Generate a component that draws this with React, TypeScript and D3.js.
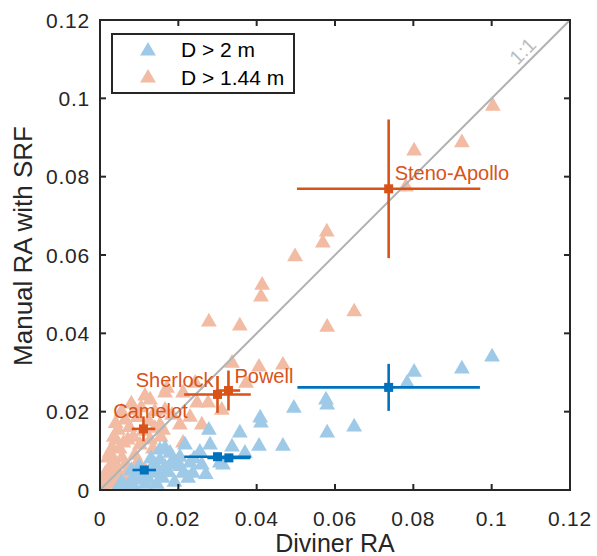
import React from "react";
import * as d3 from "d3";

// Scatter of per-crater rock abundance: D > 1.44 m (orange) and D > 2 m (blue)
const largeRocksX = [0.1001, 0.0924, 0.0802, 0.0784, 0.0577, 0.058, 0.0495, 0.0409, 0.0411, 0.058, 0.0649, 0.0357, 0.0278, 0.0406, 0.0467, 0.0337, 0.037, 0.0306, 0.026, 0.023, 0.0212, 0.0255, 0.0179, 0.0153, 0.0166, 0.0146, 0.0191, 0.0314, 0.0237, 0.0166, 0.0153, 0.0128, 0.0102, 0.0087, 0.0204, 0.0046, 0.0064, 0.0115, 0.0217, 0.0281, 0.0055, 0.0075, 0.009, 0.011, 0.0125, 0.014, 0.016, 0.0175, 0.019, 0.0205, 0.0225, 0.01, 0.013, 0.0185, 0.024, 0.027, 0.008, 0.0145, 0.0115];
const largeRocksY = [0.034, 0.0309, 0.0301, 0.0273, 0.023, 0.0217, 0.0209, 0.0184, 0.0171, 0.0146, 0.0161, 0.0146, 0.0153, 0.0112, 0.0112, 0.011, 0.0094, 0.0069, 0.0064, 0.0069, 0.0043, 0.0097, 0.0094, 0.0102, 0.0059, 0.0043, 0.0064, 0.0064, 0.0043, 0.0107, 0.0077, 0.0051, 0.0026, 0.0008, 0.0084, 0.0005, 0.001, 0.0031, 0.0115, 0.0115, 0.002, 0.0015, 0.0035, 0.0045, 0.0025, 0.0065, 0.003, 0.0045, 0.002, 0.006, 0.003, 0.006, 0.008, 0.0075, 0.008, 0.004, 0.005, 0.0015, 0.0015];

const smallRocksX = [0.1003, 0.0924, 0.0802, 0.0781, 0.0579, 0.0569, 0.0498, 0.0414, 0.0411, 0.0278, 0.0357, 0.058, 0.0649, 0.0337, 0.0406, 0.0467, 0.0373, 0.0276, 0.0311, 0.026, 0.0212, 0.023, 0.0166, 0.0212, 0.0248, 0.014, 0.0161, 0.0166, 0.0171, 0.0243, 0.0128, 0.0089, 0.0064, 0.0046, 0.0071, 0.0102, 0.0031, 0.002, 0.0056, 0.0089, 0.0031, 0.0013, 0.0046, 0.0071, 0.0015, 0.0033, 0.0008, 0.0051, 0.0128, 0.0153, 0.0184, 0.0204, 0.0077, 0.0097, 0.0041, 0.0115, 0.001, 0.002, 0.0025, 0.0035, 0.004, 0.0055, 0.006, 0.0075, 0.008, 0.0085, 0.005, 0.0035, 0.0065, 0.0095, 0.0105, 0.0115, 0.011, 0.0125, 0.014, 0.006, 0.0025, 0.0045, 0.0135, 0.0155];
const smallRocksY = [0.098, 0.0887, 0.0866, 0.0774, 0.0659, 0.0631, 0.0596, 0.0523, 0.0493, 0.0429, 0.0419, 0.0416, 0.0455, 0.0324, 0.0314, 0.0319, 0.0273, 0.0222, 0.0204, 0.0166, 0.012, 0.0186, 0.0248, 0.0248, 0.0222, 0.0158, 0.0153, 0.0204, 0.026, 0.0273, 0.023, 0.0204, 0.0179, 0.0153, 0.0128, 0.0115, 0.0107, 0.0082, 0.0082, 0.0089, 0.0059, 0.0041, 0.0046, 0.0051, 0.002, 0.0023, 0.0008, 0.0015, 0.0128, 0.0166, 0.0191, 0.0166, 0.0031, 0.0072, 0.0128, 0.0051, 0.003, 0.005, 0.0095, 0.0135, 0.017, 0.02, 0.012, 0.016, 0.022, 0.0135, 0.0105, 0.0075, 0.0065, 0.0185, 0.021, 0.024, 0.015, 0.0175, 0.02, 0.003, 0.0015, 0.003, 0.0105, 0.0135];

// Site means with uncertainties
const siteNames = ["Steno-Apollo", "Sherlock", "Powell", "Camelot"];
const siteSmallX = [0.0737, 0.03, 0.0328, 0.0111];
const siteSmallY = [0.0769, 0.0244, 0.0254, 0.0156];
const siteSmallXErr = [0.0234, 0.0085, 0.003, 0.003];
const siteSmallYErr = [0.0177, 0.0047, 0.0051, 0.0032];
const siteLargeX = [0.0737, 0.03, 0.0329, 0.0113];
const siteLargeY = [0.0262, 0.0085, 0.0082, 0.0051];
const siteLargeXErr = [0.0233, 0.0085, 0.0055, 0.003];
const siteLargeYErr = [0.006, 0.001, 0.001, 0.0008];

const tickValues = [0, 0.02, 0.04, 0.06, 0.08, 0.1, 0.12];
const tickLabels = ["0", "0.02", "0.04", "0.06", "0.08", "0.1", "0.12"];
const legendLabels = ["D > 2 m", "D > 1.44 m"];

const BLUE = "#0072BD";
const ORANGE = "#D95319";
const BLUE_LIGHT = "#9ECAE8";
const ORANGE_LIGHT = "#F2BBA3";
const AX = "#262626";
const FONT = "'Liberation Sans', Arial, Helvetica, sans-serif";

const labelOffsets: [number, number, string][] = [
  [6, -9, "start"],
  [-4, -7, "end"],
  [6, -8, "start"],
  [7, -11, "middle"],
];

export default function App() {
  const W = 597;
  const H = 556;
  const x = d3.scaleLinear().domain([0, 0.12]).range([100, 570]);
  const y = d3.scaleLinear().domain([0, 0.12]).range([490, 20]);
  const tri = d3.symbol().type(d3.symbolTriangle).size(108)()!;
  const tickLen = 6;

  const errorBars = (
    xs: number[],
    ys: number[],
    xe: number[],
    ye: number[],
    color: string,
    key: string
  ) =>
    xs.map((xv, i) => (
      <g key={`${key}${i}`} stroke={color} strokeWidth={2.6} fill={color}>
        <line x1={x(xv - xe[i])} x2={x(xv + xe[i])} y1={y(ys[i])} y2={y(ys[i])} />
        <line x1={x(xv)} x2={x(xv)} y1={y(ys[i] - ye[i])} y2={y(ys[i] + ye[i])} />
        <rect x={x(xv) - 4.5} y={y(ys[i]) - 4.5} width={9} height={9} stroke="none" />
      </g>
    ));

  return (
    <svg
      width={W}
      height={H}
      style={{ position: "absolute", left: 0, top: 0, background: "#fff" }}
      fontFamily={FONT}
    >
      <rect width={W} height={H} fill="#fff" />
      <defs>
        <clipPath id="plotArea">
          <rect x={100} y={20} width={470} height={470} />
        </clipPath>
      </defs>

      <g clipPath="url(#plotArea)">
        {smallRocksX.map((v, i) => (
          <path key={`s${i}`} d={tri} transform={`translate(${x(v)},${y(smallRocksY[i])})`} fill={ORANGE_LIGHT} />
        ))}
        {largeRocksX.map((v, i) => (
          <path key={`l${i}`} d={tri} transform={`translate(${x(v)},${y(largeRocksY[i])})`} fill={BLUE_LIGHT} />
        ))}
        <line x1={x(0)} y1={y(0)} x2={x(0.12)} y2={y(0.12)} stroke="#b3b3b3" strokeWidth={2} />
      </g>

      <text
        transform={`translate(${x(0.11) - 7},${y(0.11) - 7}) rotate(-45)`}
        textAnchor="middle"
        dominantBaseline="middle"
        fontSize={20}
        fill="#bdbdbd"
      >
        1:1
      </text>

      {errorBars(siteSmallX, siteSmallY, siteSmallXErr, siteSmallYErr, ORANGE, "se")}
      {errorBars(siteLargeX, siteLargeY, siteLargeXErr, siteLargeYErr, BLUE, "le")}

      {siteNames.map((n, i) => (
        <text
          key={n}
          x={x(siteSmallX[i]) + labelOffsets[i][0]}
          y={y(siteSmallY[i]) + labelOffsets[i][1]}
          textAnchor={labelOffsets[i][2] as any}
          fontSize={20}
          fill={ORANGE}
        >
          {n}
        </text>
      ))}

      {/* axes box with inward ticks */}
      <rect x={100} y={20} width={470} height={470} fill="none" stroke={AX} strokeWidth={2} />
      {tickValues.map((t, i) => (
        <g key={`t${i}`} stroke={AX} strokeWidth={2}>
          <line x1={x(t)} x2={x(t)} y1={490} y2={490 - tickLen} />
          <line x1={x(t)} x2={x(t)} y1={20} y2={20 + tickLen} />
          <line x1={100} x2={100 + tickLen} y1={y(t)} y2={y(t)} />
          <line x1={570} x2={570 - tickLen} y1={y(t)} y2={y(t)} />
        </g>
      ))}
      {tickValues.map((t, i) => (
        <text key={`xl${i}`} x={x(t)} y={526} textAnchor="middle" fontSize={21} letterSpacing={0.8} fill={AX}>
          {tickLabels[i]}
        </text>
      ))}
      {tickValues.map((t, i) => (
        <text key={`yl${i}`} x={90} y={y(t) + 7.5} textAnchor="end" fontSize={21} letterSpacing={0.8} fill={AX}>
          {tickLabels[i]}
        </text>
      ))}
      <text x={335} y={552} textAnchor="middle" fontSize={25} fill={AX}>
        Diviner RA
      </text>
      <text transform="translate(32,246) rotate(-90)" textAnchor="middle" fontSize={26} fill={AX}>
        Manual RA with SRF
      </text>

      {/* legend */}
      <rect x={112} y={34} width={182} height={59} fill="#fff" stroke={AX} strokeWidth={2} />
      {legendLabels.map((l, i) => (
        <g key={l}>
          <path d={tri} transform={`translate(148,${51 + i * 27})`} fill={i === 0 ? BLUE_LIGHT : ORANGE_LIGHT} />
          <text x={181} y={57 + i * 28} fontSize={21} fill="#000">
            {l}
          </text>
        </g>
      ))}
    </svg>
  );
}
